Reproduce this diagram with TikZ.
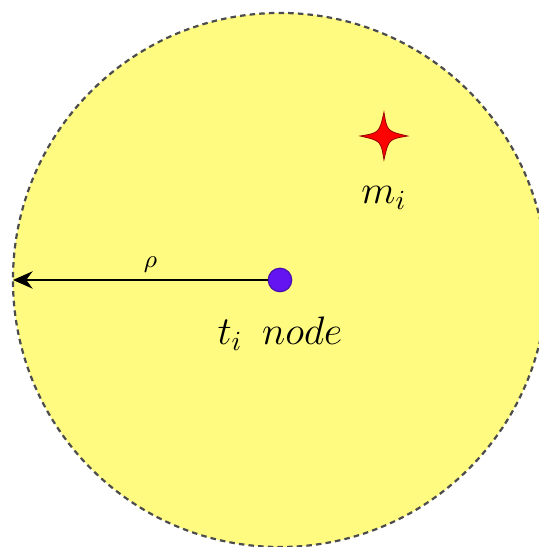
\documentclass[tikz,border=0pt]{standalone}
\usetikzlibrary{arrows.meta, positioning}
\definecolor{zoneyellow}{RGB}{255,250,128}
\definecolor{nodeblue}{RGB}{100,20,240}
\begin{document}
\begin{tikzpicture}[
    zone/.style={circle, draw=black!70, dash pattern=on 2pt off 1.5pt, line width=0.8pt, fill=zoneyellow, minimum size=6.8cm},
    tnode/.style={circle, draw=nodeblue!70!black, fill=nodeblue, minimum size=0.3cm, inner sep=0pt},
    target/.style={draw=red!60!black, fill=red, line width=0.3pt},
    arrow/.style={-{Stealth[length=2.5mm, width=2.2mm]}, thick}
]
\useasboundingbox (-3.565,-3.4) rectangle (3.298,3.565);

% coverage zone
\node[zone] (zone) at (0,0) {};

% node t_i and its radius
\node[tnode] (t) at (0,0) {};
\coordinate (edge) at (-3.4,0);
\draw[arrow] (t) -- (edge) node[pos=0.46, above=-1pt, font=\small] {$\rho$};
\node[font=\Large] (tlabel) at (0,-0.68) {$t_i\ \,node$};

% target m_i
\coordinate (m) at (1.324,1.833);
\draw[target] (m) ++(0,0.3) .. controls +(0.04,-0.24) .. ++(0.3,-0.3)
    .. controls +(-0.24,-0.04) .. ++(-0.3,-0.3)
    .. controls +(-0.04,0.24) .. ++(-0.3,0.3)
    .. controls +(0.24,0.04) .. cycle;
\node[font=\Large, below=0.52cm of m] (mlabel) {$m_i$};

\end{tikzpicture}
\end{document}
